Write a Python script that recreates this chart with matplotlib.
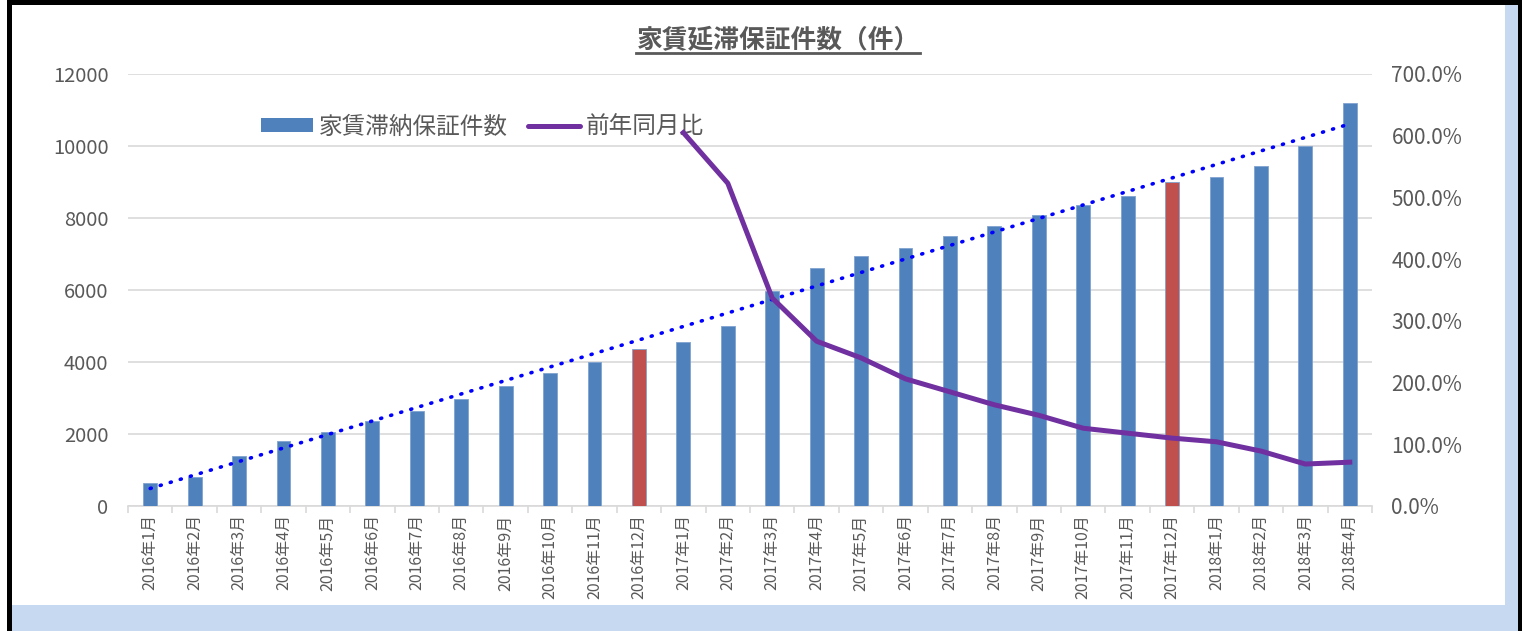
import matplotlib.pyplot as plt
import numpy as np
from matplotlib.patches import Rectangle
from matplotlib.lines import Line2D
from matplotlib.ticker import FixedLocator, FuncFormatter

plt.rcParams['font.family'] = ['Noto Sans CJK JP', 'DejaVu Sans']

months = ['2016年%d月' % m for m in range(1, 13)] + \
         ['2017年%d月' % m for m in range(1, 13)] + \
         ['2018年%d月' % m for m in range(1, 5)]

counts = [650, 800, 1380, 1800, 2050, 2360, 2640, 2970, 3330, 3700, 4000, 4360,
          4550, 5000, 5970, 6610, 6940, 7170, 7500, 7780, 8080, 8360, 8610, 9000,
          9150, 9440, 10000, 11200]

# year-over-year ratio (%), from 2017年1月
yoy_start = 12
yoy = [605, 523, 337, 267, 240, 206, 185, 164, 147, 126, 118, 110, 104, 89, 68, 71]

highlight = ['2016年12月', '2017年12月']

BLUE = '#4f81bd'
RED = '#c0504d'
PURPLE = '#7030a0'
GREY = '#595959'
GRID = '#d9d9d9'

W, H = 1522, 631
fig = plt.figure(figsize=(W / 100, H / 100), dpi=100, facecolor='white')

# outer frame
def px_rect(x0, y0, x1, y1, color):
    fig.patches.append(Rectangle((x0 / W, 1 - y1 / H), (x1 - x0) / W, (y1 - y0) / H,
                                 transform=fig.transFigure, facecolor=color,
                                 edgecolor='none', zorder=-10))

px_rect(7, 0, W, H, 'black')
px_rect(12, 5, 1518, H, '#c6d9f0')
px_rect(12, 5, 1505, 605, 'white')

x = np.arange(len(months))
ax = fig.add_axes([128 / W, 1 - 506 / H, (1372 - 128) / W, (506 - 74) / H])
ax.set_facecolor('none')

colors = [RED if m in highlight else BLUE for m in months]
ax.bar(x, counts, width=0.31, color=colors, edgecolor='#7fa3d0', linewidth=0.6,
       zorder=3, label='家賃滞納保証件数')

# linear trendline
coef = np.polyfit(x, counts, 1)
ax.plot(x, np.polyval(coef, x), color='#0000ff', lw=2.6, ls=(0, (0.3, 2.6)),
        dash_capstyle='round', zorder=5)

ax.set_xlim(-0.5, len(months) - 0.5)
ax.set_ylim(0, 12000)
ax.set_yticks(range(0, 12001, 2000))
ax.yaxis.grid(True, color=GRID, lw=1.2)
ax.set_axisbelow(True)
for s in ('top', 'right', 'left'):
    ax.spines[s].set_visible(False)
ax.spines['bottom'].set_color(GRID)
ax.spines['bottom'].set_linewidth(1.2)
ax.spines['bottom'].set_zorder(1)

ax.set_xticks(x)
ax.set_xticklabels(months, rotation=90, fontsize=11.5, color=GREY)
ax.tick_params(axis='x', which='major', length=0, pad=6)
ax.xaxis.set_minor_locator(FixedLocator(np.arange(-0.5, len(months), 1)))
ax.tick_params(axis='x', which='minor', length=5, color=GRID, width=1.2)
ax.tick_params(axis='y', length=0, labelsize=14.5, labelcolor=GREY, pad=14)

ax2 = ax.twinx()
ax2.set_ylim(0, 700)
ax2.set_yticks(range(0, 701, 100))
ax2.yaxis.set_major_formatter(FuncFormatter(lambda v, p: '%.1f%%' % v))
ax2.tick_params(axis='y', length=0, labelsize=15, labelcolor=GREY, pad=14)
for s in ax2.spines.values():
    s.set_visible(False)
ax2.plot(x[yoy_start:], yoy, color=PURPLE, lw=3.6, solid_joinstyle='round',
         zorder=6, label='前年同月比')

handles = [Rectangle((0, 0), 1, 1, facecolor=BLUE, edgecolor='none'),
           Line2D([], [], color=PURPLE, lw=3.6, solid_capstyle='round')]
ax.legend(handles, ['家賃滞納保証件数', '前年同月比'], loc='center left',
          bbox_to_anchor=((261 - 128) / (1372 - 128), (506 - 127) / (506 - 74)),
          ncol=2, frameon=False, fontsize=17, labelcolor=GREY,
          handlelength=2.2, handleheight=0.55, handletextpad=0.25, columnspacing=0.85,
          borderaxespad=0, borderpad=0)

title = fig.text(778 / W, 1 - 41 / H, '家賃延滞保証件数（件）', ha='center', va='center',
                 fontsize=18.5, fontweight='bold', color=GREY)
fig.canvas.draw()
bb = title.get_window_extent(fig.canvas.get_renderer()).transformed(fig.transFigure.inverted())
fig.lines.append(Line2D([bb.x0, bb.x1], [bb.y0 + 0.002, bb.y0 + 0.002],
                        transform=fig.transFigure, color=GREY, lw=2))

fig.savefig('out.png', dpi=100, facecolor=fig.get_facecolor())
